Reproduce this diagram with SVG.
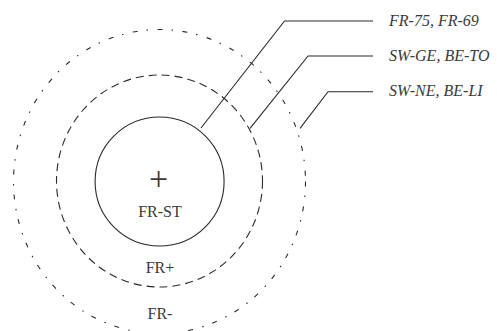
<svg xmlns="http://www.w3.org/2000/svg" width="497" height="331" viewBox="0 0 497 331">
<style>
.ring{fill:none;stroke:#2a2a2a;stroke-width:1.1}
.lead{fill:none;stroke:#2a2a2a;stroke-width:1.1}
.lbl{font-family:"Liberation Serif","Times New Roman",serif;font-size:16px;fill:#3a3a3a}
.it{font-style:italic;font-size:16px}
</style>
<rect width="497" height="331" fill="#ffffff"/>
<g id="zone-fr-minus">
<ellipse class="ring" cx="159.5" cy="181.5" rx="146" ry="152" stroke-dasharray="5 9 1.5 9.5"/>
<text class="lbl" x="160" y="318.5" text-anchor="middle">FR-</text>
</g>
<g id="zone-fr-plus">
<ellipse class="ring" cx="159.5" cy="181" rx="103" ry="106" stroke-dasharray="8 5"/>
<text class="lbl" x="160" y="272.5" text-anchor="middle">FR+</text>
</g>
<g id="zone-fr-st">
<circle class="ring" cx="159.6" cy="181.5" r="64.5"/>
<text class="lbl" x="158.5" y="190" text-anchor="middle" style="font-size:34px">+</text>
<text class="lbl" x="160" y="216.5" text-anchor="middle">FR-ST</text>
</g>
<g id="connectors">
<polyline class="lead" points="201,128 284.5,21 373,21"/>
<polyline class="lead" points="250,128.3 308,56 373,56"/>
<polyline class="lead" points="300,128.3 328,91.7 373,91.7"/>
</g>
<g id="label-1"><text class="lbl it" x="389" y="25.7">FR-75, FR-69</text></g>
<g id="label-2"><text class="lbl it" x="389" y="60.5">SW-GE, BE-TO</text></g>
<g id="label-3"><text class="lbl it" x="389" y="96">SW-NE, BE-LI</text></g>
</svg>
